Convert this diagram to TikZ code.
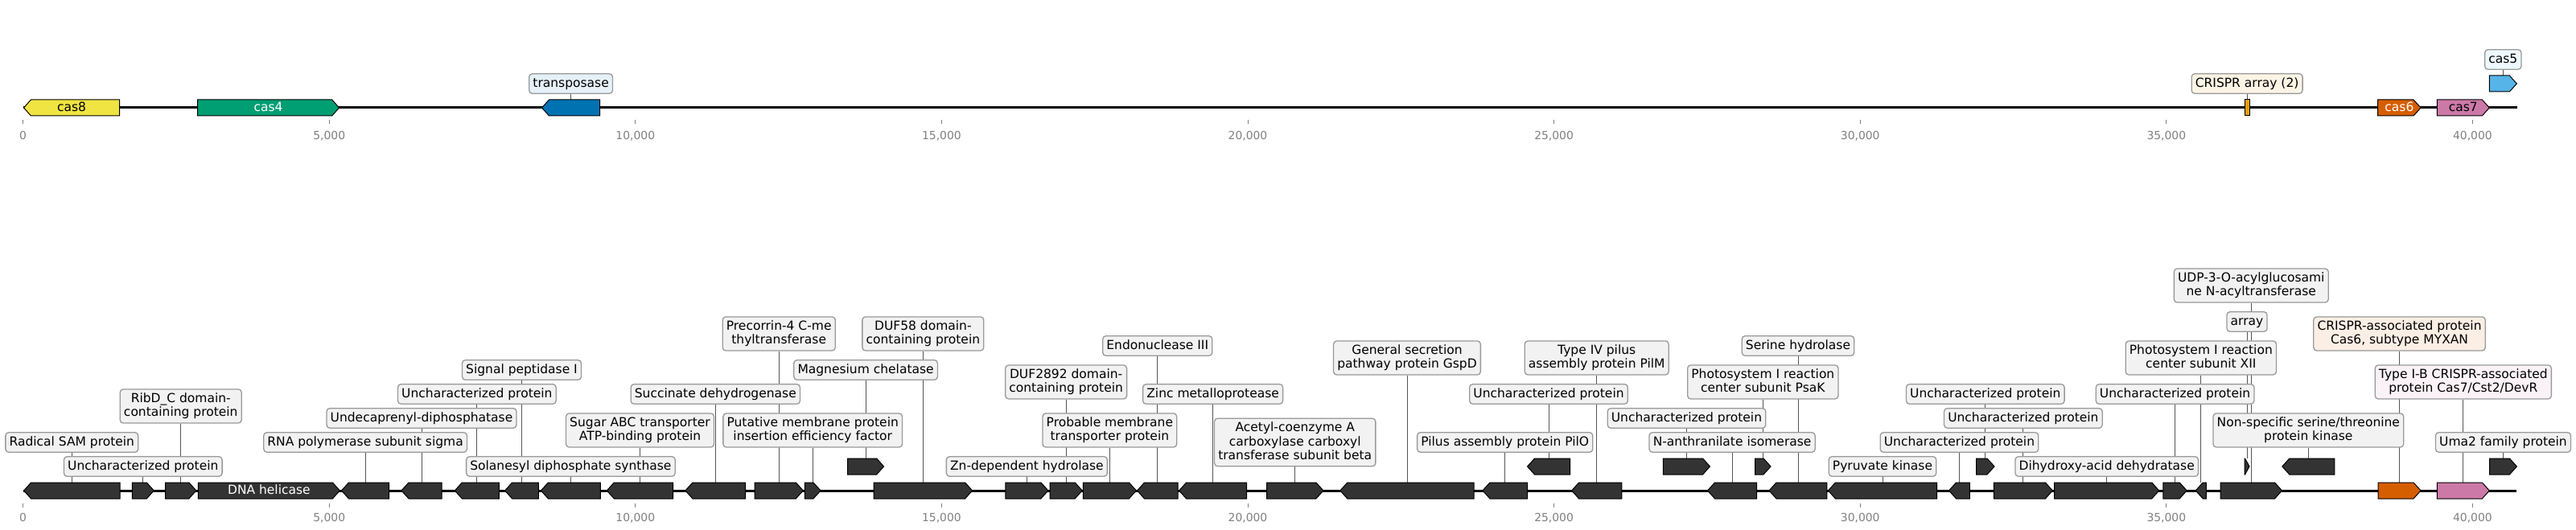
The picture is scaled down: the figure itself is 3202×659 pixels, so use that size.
\documentclass[tikz,border=0pt]{standalone}
\usepackage{fontspec}
\setmainfont{DejaVu Sans}
\pgfdeclarelayer{bg}
\pgfdeclarelayer{paper}
\pgfsetlayers{paper,bg,main}
\definecolor{cYel}{HTML}{F0E442}
\definecolor{cGrn}{HTML}{009E73}
\definecolor{cBlu}{HTML}{0072B2}
\definecolor{cSky}{HTML}{56B4E9}
\definecolor{cOra}{HTML}{E69F00}
\definecolor{cVer}{HTML}{D55E00}
\definecolor{cPnk}{HTML}{CC79A7}
\definecolor{cDrk}{HTML}{333333}
\definecolor{boxgray}{HTML}{F2F2F2}
\definecolor{boxedge}{HTML}{999999}
\definecolor{connc}{HTML}{555555}
\definecolor{tickc}{HTML}{808080}
\newcommand\lblfont{\fontsize{15.5bp}{17.5bp}\selectfont}
\newcommand\tickfont{\fontsize{13.9bp}{16bp}\selectfont}
\newcommand\zs{\rule[-4.7bp]{0pt}{17.5bp}}
% right-pointing gene: name, x1, x2, yc, fill
\newcommand\gR[5]{%
  \pgfmathsetmacro\ghl{min(9,#3-#2-0.5)}%
  \filldraw[gene,fill=#5] (#2,#4-10) -- (#3-\ghl,#4-10) -- (#3,#4) -- (#3-\ghl,#4+10) -- (#2,#4+10) -- cycle;
  \coordinate (#1) at ({(#2+#3)/2},#4-10);}
% left-pointing gene
\newcommand\gL[5]{%
  \pgfmathsetmacro\ghl{min(9,#3-#2-0.5)}%
  \filldraw[gene,fill=#5] (#2,#4) -- (#2+\ghl,#4-10) -- (#3,#4-10) -- (#3,#4+10) -- (#2+\ghl,#4+10) -- cycle;
  \coordinate (#1) at ({(#2+#3)/2},#4-10);}
% plain box feature
\newcommand\gBox[5]{%
  \filldraw[gene,fill=#5] (#2,#4-10) rectangle (#3,#4+10);
  \coordinate (#1) at ({(#2+#3)/2},#4-10);}
% label box with connector
\newcommand\glab[4][boxgray]{%
  \node[lbl,fill=#1] (#2-l) at (#2 |- 0,#3) {#4};
  \begin{pgfonlayer}{bg}\draw[conn] (#2) -- (#2-l.south);\end{pgfonlayer}}
\begin{document}
\begin{tikzpicture}[x=1bp,y=-1bp,line join=miter,
  gene/.style={draw=black,line width=1bp},
  lbl/.style={draw=boxedge,line width=1.3bp,rounded corners=4bp,inner xsep=4.7bp,inner ysep=3.55bp,align=center,font=\lblfont,text=black},
  inl/.style={font=\lblfont,inner sep=0pt},
  conn/.style={draw=connc,line width=0.9bp},
  tk/.style={draw=tickc,line width=1bp},
  tkl/.style={font=\tickfont,text=tickc,inner sep=0pt,anchor=base},
  seqline/.style={draw=black,line width=3bp}]
\begin{pgfonlayer}{paper}\fill[white] (0,0) rectangle (3202,659);\end{pgfonlayer}
\useasboundingbox (0,0) rectangle (3202,659);

% ---------- top panel ----------
\coordinate (ts) at (28.6,134);
\coordinate (te) at (3128.6,134);
\begin{pgfonlayer}{bg}\draw[seqline] (ts) -- (te);\end{pgfonlayer}
\foreach \k/\t in {0/0,1/{5,000},2/{10,000},3/{15,000},4/{20,000},5/{25,000},6/{30,000},7/{35,000},8/{40,000}}{
  \coordinate (tta\k) at ({28.6+380.6*\k},149);
  \coordinate (ttb\k) at ({28.6+380.6*\k},154);
  \draw[tk] (tta\k) -- (ttb\k);
  \node[tkl] (ttl\k) at ({28.6+380.6*\k},173) {\t};
}
\gL{t1}{29.5}{148.7}{134}{cYel}
\node[inl] (t1-t) at (t1 |- 0,134) {\zs cas8};
\gR{t2}{245.5}{421.6}{134}{cGrn}
\node[inl,text=white] (t2-t) at (t2 |- 0,134) {\zs cas4};
\gL{t3}{673.5}{745.7}{134}{cBlu}
\glab[cBlu!10]{t3}{104}{\zs transposase}
\gBox{t4}{2790}{2796.2}{134}{cOra}
\glab[cOra!10]{t4}{104}{\zs CRISPR array (2)}
\gR{t5}{2955.7}{3009}{134}{cVer}
\node[inl,text=white] (t5-t) at (t5 |- 0,134) {\zs cas6};
\gR{t6}{3029.3}{3094.3}{134}{cPnk}
\node[inl] (t6-t) at (t6 |- 0,134) {\zs cas7};
\gR{t7}{3094.3}{3128.3}{104}{cSky}
\glab[cSky!10]{t7}{74}{\zs cas5}

% ---------- bottom panel ----------
\coordinate (bs) at (28.6,610);
\coordinate (be) at (3128.4,610);
\begin{pgfonlayer}{bg}\draw[seqline] (bs) -- (be);\end{pgfonlayer}
\foreach \k/\t in {0/0,1/{5,000},2/{10,000},3/{15,000},4/{20,000},5/{25,000},6/{30,000},7/{35,000},8/{40,000}}{
  \coordinate (bta\k) at ({28.6+380.6*\k},625.5);
  \coordinate (btb\k) at ({28.6+380.6*\k},630.5);
  \draw[tk] (bta\k) -- (btb\k);
  \node[tkl] (btl\k) at ({28.6+380.6*\k},648.5) {\t};
}
\gL{g1}{29.6}{149}{610}{cDrk}
\gR{g2}{164.3}{191.3}{610}{cDrk}
\gR{g3}{205.6}{243.9}{610}{cDrk}
\gR{g4}{246.4}{422.4}{610}{cDrk}
\gL{g5}{424.5}{483.7}{610}{cDrk}
\gL{g6}{499}{549}{610}{cDrk}
\gL{g7}{565.3}{620.4}{610}{cDrk}
\gL{g8}{627.6}{669.4}{610}{cDrk}
\gL{g9}{672.4}{746.4}{610}{cDrk}
\gL{g10}{754.3}{836.7}{610}{cDrk}
\gL{g11}{851.9}{926.7}{610}{cDrk}
\gR{g12}{938.1}{998.3}{610}{cDrk}
\gR{g13}{1000.4}{1020}{610}{cDrk}
\gR{g14}{1053.6}{1098.6}{580}{cDrk}
\gR{g15}{1086.1}{1208.6}{610}{cDrk}
\gR{g16}{1249.8}{1302.9}{610}{cDrk}
\gR{g17}{1305.1}{1345.2}{610}{cDrk}
\gR{g18}{1346.3}{1412.4}{610}{cDrk}
\gL{g19}{1413.5}{1464}{610}{cDrk}
\gL{g20}{1465.6}{1549.6}{610}{cDrk}
\gR{g21}{1574.5}{1644.9}{610}{cDrk}
\gL{g22}{1665.8}{1832.1}{610}{cDrk}
\gL{g23}{1842.9}{1898.5}{610}{cDrk}
\gL{g24}{1898.5}{1951.5}{580}{cDrk}
\gL{g25}{1953.6}{2015.8}{610}{cDrk}
\gR{g26}{2067.4}{2125.5}{580}{cDrk}
\gL{g27}{2122.5}{2183.7}{610}{cDrk}
\gR{g28}{2181.6}{2201}{580}{cDrk}
\gL{g29}{2199}{2270.9}{610}{cDrk}
\gL{g30}{2272.4}{2407.6}{610}{cDrk}
\gL{g31}{2422.5}{2448.4}{610}{cDrk}
\gR{g32}{2456.5}{2479}{580}{cDrk}
\gR{g33}{2478.3}{2551.4}{610}{cDrk}
\gR{g34}{2553.7}{2683.7}{610}{cDrk}
\gR{g35}{2688.9}{2718.2}{610}{cDrk}
\gL{g36}{2729.2}{2742.4}{610}{cDrk}
\gR{g37}{2790}{2796}{580}{cDrk}
\gR{g38}{2760}{2836.5}{610}{cDrk}
\gL{g39}{2836.8}{2901.8}{580}{cDrk}
\gR{g40}{2956}{3009}{610}{cVer}
\gR{g41}{3029.3}{3094.3}{610}{cPnk}
\gR{g42}{3094.5}{3128.4}{580}{cDrk}

\glab{g1}{550}{\zs Radical SAM protein}
\glab{g2}{580}{\zs Uncharacterized protein}
\glab{g3}{505}{\zs RibD\_C domain-\\\zs containing protein}
\node[inl,text=white] (g4-t) at (g4 |- 0,610) {\zs DNA helicase};
\glab{g5}{550}{\zs RNA polymerase subunit sigma}
\glab{g6}{520}{\zs Undecaprenyl-diphosphatase}
\glab{g7}{490}{\zs Uncharacterized protein}
\glab{g8}{460}{\zs Signal peptidase I}
\glab{g9}{580}{\zs Solanesyl diphosphate synthase}
\glab{g10}{535}{\zs Sugar ABC transporter\\\zs ATP-binding protein}
\glab{g11}{490}{\zs Succinate dehydrogenase}
\glab{g12}{415}{\zs Precorrin-4 C-me\\\zs thyltransferase}
\glab{g13}{535}{\zs Putative membrane protein\\\zs insertion efficiency factor}
\glab{g14}{460}{\zs Magnesium chelatase}
\glab{g15}{415}{\zs DUF58 domain-\\\zs containing protein}
\glab{g16}{580}{\zs Zn-dependent hydrolase}
\glab{g17}{475}{\zs DUF2892 domain-\\\zs containing protein}
\glab{g18}{535}{\zs Probable membrane\\\zs transporter protein}
\glab{g19}{430}{\zs Endonuclease III}
\glab{g20}{490}{\zs Zinc metalloprotease}
\glab{g21}{550}{\zs Acetyl-coenzyme A\\\zs carboxylase carboxyl\\\zs transferase subunit beta}
\glab{g22}{445}{\zs General secretion\\\zs pathway protein GspD}
\glab{g23}{550}{\zs Pilus assembly protein PilO}
\glab{g24}{490}{\zs Uncharacterized protein}
\glab{g25}{445}{\zs Type IV pilus\\\zs assembly protein PilM}
\glab{g26}{520}{\zs Uncharacterized protein}
\glab{g27}{550}{\zs N-anthranilate isomerase}
\glab{g28}{475}{\zs Photosystem I reaction\\\zs center subunit PsaK}
\glab{g29}{430}{\zs Serine hydrolase}
\glab{g30}{580}{\zs Pyruvate kinase}
\glab{g31}{550}{\zs Uncharacterized protein}
\glab{g32}{490}{\zs Uncharacterized protein}
\glab{g33}{520}{\zs Uncharacterized protein}
\glab{g34}{580}{\zs Dihydroxy-acid dehydratase}
\glab{g35}{490}{\zs Uncharacterized protein}
\glab{g36}{445}{\zs Photosystem I reaction\\\zs center subunit XII}
\glab{g37}{400}{\zs array}
\glab{g38}{355}{\zs UDP-3-O-acylglucosami\\\zs ne N-acyltransferase}
\glab{g39}{535}{\zs Non-specific serine/threonine\\\zs protein kinase}
\glab[cVer!10]{g40}{415}{\zs CRISPR-associated protein\\\zs Cas6, subtype MYXAN}
\glab[cPnk!10]{g41}{475}{\zs Type I-B CRISPR-associated\\\zs protein Cas7/Cst2/DevR}
\glab{g42}{550}{\zs Uma2 family protein}
\end{tikzpicture}
\end{document}
